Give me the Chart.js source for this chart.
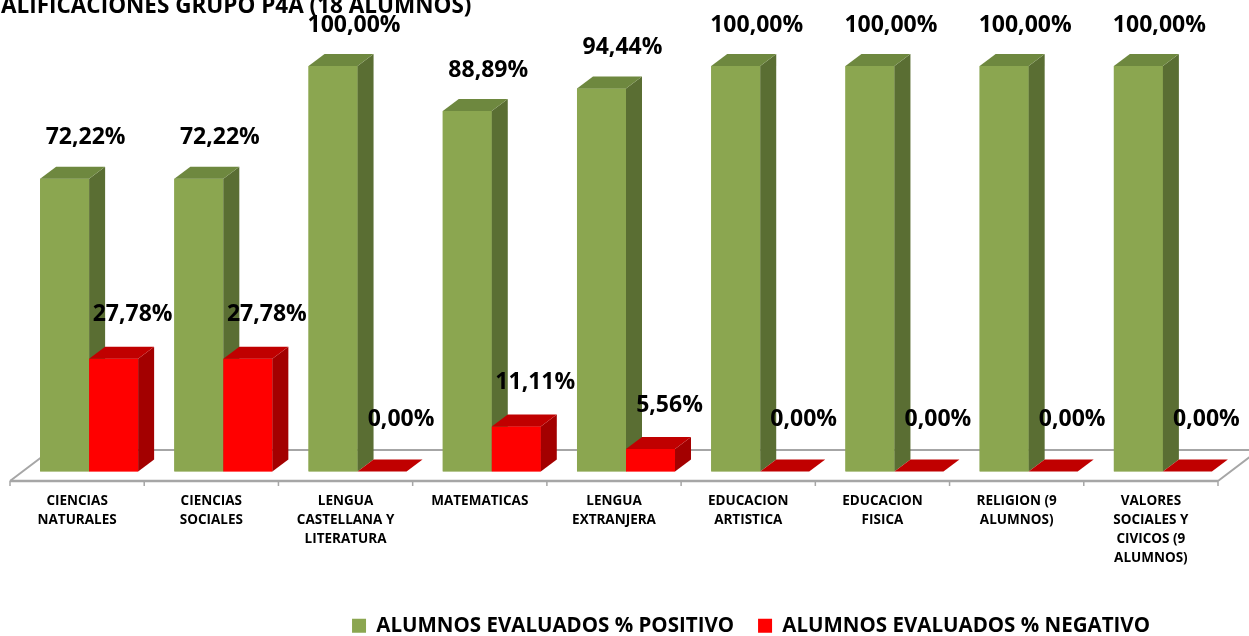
<!DOCTYPE html>
<html><head><meta charset="utf-8">
<script src="https://cdn.jsdelivr.net/npm/chart.js@4.4.1/dist/chart.umd.min.js"></script>
<style>html,body{margin:0;padding:0;background:#fff;overflow:hidden}</style>
</head><body>
<canvas id="c" width="1249" height="636"></canvas>
<script>
const chartTitle = 'CALIFICACIONES GRUPO P4A (18 ALUMNOS)';
const categories = [
  ['CIENCIAS','NATURALES'],
  ['CIENCIAS','SOCIALES'],
  ['LENGUA','CASTELLANA Y','LITERATURA'],
  ['MATEMATICAS'],
  ['LENGUA','EXTRANJERA'],
  ['EDUCACION','ARTISTICA'],
  ['EDUCACION','FISICA'],
  ['RELIGION (9','ALUMNOS)'],
  ['VALORES','SOCIALES Y','CIVICOS (9','ALUMNOS)']
];
const seriesNames = ['ALUMNOS EVALUADOS % POSITIVO','ALUMNOS EVALUADOS % NEGATIVO'];
const positive = [72.22, 72.22, 100.00, 88.89, 94.44, 100.00, 100.00, 100.00, 100.00];
const negative = [27.78, 27.78, 0.00, 11.11, 5.56, 0.00, 0.00, 0.00, 0.00];

const FRONT = ['#8BA650', '#FF0000'];
const TOPC  = ['#6E883F', '#C00000'];
const SIDE  = ['#5A6E33', '#A30000'];
const DX = 16, DY = 12;          // bar depth
const FLOOR_DX = 41, FLOOR_DY = 31, FLOOR_SHIFT = 12;
const FONT = '"Open Sans"';

Chart.defaults.font.family = FONT;
Chart.defaults.color = '#000';

const fmt = v => v.toFixed(2).replace('.', ',') + '%';

const floorPlugin = {
  id: 'floor',
  afterLayout(chart) {
    const lg = chart.legend;
    lg.left += 125; lg.right += 125; lg.top += 10; lg.bottom += 10;
  },
  beforeDatasetsDraw(chart) {
    const ctx = chart.ctx, xs = chart.scales.x, a = chart.chartArea;
    const n = categories.length;
    const w = (xs.right - xs.left) / n;
    const x0 = xs.left - FLOOR_SHIFT, x1 = xs.right - FLOOR_SHIFT;
    const fy = a.bottom + 9.5;
    ctx.save();
    ctx.strokeStyle = '#A6A6A6';
    ctx.lineWidth = 2;
    ctx.beginPath();
    ctx.moveTo(x0 + FLOOR_DX, fy - FLOOR_DY); ctx.lineTo(x1 + FLOOR_DX, fy - FLOOR_DY);
    ctx.moveTo(x0, fy); ctx.lineTo(x0 + FLOOR_DX, fy - FLOOR_DY);
    ctx.moveTo(x1, fy); ctx.lineTo(x1 + FLOOR_DX, fy - FLOOR_DY);
    ctx.stroke();
    ctx.lineWidth = 2.5;
    ctx.beginPath();
    ctx.moveTo(x0, fy); ctx.lineTo(x1, fy);
    ctx.stroke();
    ctx.lineWidth = 1.5;
    ctx.beginPath();
    for (let i = 0; i <= n; i++) {
      const x = x0 + w * i;
      ctx.moveTo(x, fy); ctx.lineTo(x, fy + 5);
    }
    ctx.stroke();
    ctx.restore();
  },
  afterDatasetsDraw(chart) {
    const ctx = chart.ctx;
    const metas = chart.data.datasets.map((d, i) => chart.getDatasetMeta(i));
    ctx.save();
    for (let i = 0; i < categories.length; i++) {
      metas.forEach((m, di) => {
        const el = m.data[i];
        el.draw(ctx);
        const l = el.x - el.width / 2, r = el.x + el.width / 2, t = el.y, b = el.base;
        ctx.fillStyle = SIDE[di];
        ctx.beginPath();
        ctx.moveTo(r, t); ctx.lineTo(r + DX, t - DY); ctx.lineTo(r + DX, b - DY); ctx.lineTo(r, b);
        ctx.closePath(); ctx.fill();
        ctx.fillStyle = TOPC[di];
        ctx.beginPath();
        ctx.moveTo(l, t); ctx.lineTo(l + DX, t - DY); ctx.lineTo(r + DX, t - DY); ctx.lineTo(r, t);
        ctx.closePath(); ctx.fill();
      });
    }
    // data labels
    ctx.font = 'bold 23px ' + FONT;
    ctx.fillStyle = '#000';
    ctx.textAlign = 'center';
    ctx.textBaseline = 'middle';
    metas.forEach((m, di) => {
      const vals = chart.data.datasets[di].data;
      m.data.forEach((el, i) => {
        const v = vals[i];
        const dxo = di === 0 ? 21 : 19;
        const dyo = di === 0 ? -41 : (v === 0 ? -52 : -44);
        ctx.fillText(fmt(v), el.x + dxo, el.y + dyo);
      });
    });
    ctx.restore();
  },
  afterDraw(chart) {
    const ctx = chart.ctx;
    ctx.save();
    ctx.font = 'bold 22.5px ' + FONT;
    ctx.fillStyle = '#000';
    ctx.textAlign = 'left';
    ctx.textBaseline = 'alphabetic';
    const cw = ctx.measureText(chartTitle.charAt(0)).width;
    ctx.fillText(chartTitle, 1 - cw, 13);
    ctx.restore();
  }
};

new Chart(document.getElementById('c'), {
  type: 'bar',
  data: {
    labels: categories,
    datasets: [
      { label: seriesNames[0], data: positive, backgroundColor: FRONT[0], borderWidth: 0 },
      { label: seriesNames[1], data: negative, backgroundColor: FRONT[1], borderWidth: 0 }
    ]
  },
  options: {
    responsive: false,
    animation: false,
    events: [],
    layout: { padding: { left: 22, right: 19, top: 66, bottom: 0 } },
    datasets: { bar: { barPercentage: 1, categoryPercentage: 0.7303 } },
    scales: {
      y: { display: false, min: 0, max: 100 },
      x: {
        grid: { display: false, drawTicks: false },
        border: { display: false },
        ticks: {
          padding: 20,
          labelOffset: -FLOOR_SHIFT,
          maxRotation: 0, autoSkip: false,
          color: '#000',
          font: { size: 13.5, weight: 'bold', lineHeight: '19px' }
        },
        afterFit(scale) { scale.height = 110; }
      }
    },
    plugins: {
      title: { display: false },
      tooltip: { enabled: false },
      legend: {
        position: 'bottom',
        labels: {
          boxWidth: 14, boxHeight: 14, padding: 24,
          color: '#000',
          font: { size: 20.5, weight: 'bold' }
        }
      }
    }
  },
  plugins: [floorPlugin]
});
</script>
</body></html>
